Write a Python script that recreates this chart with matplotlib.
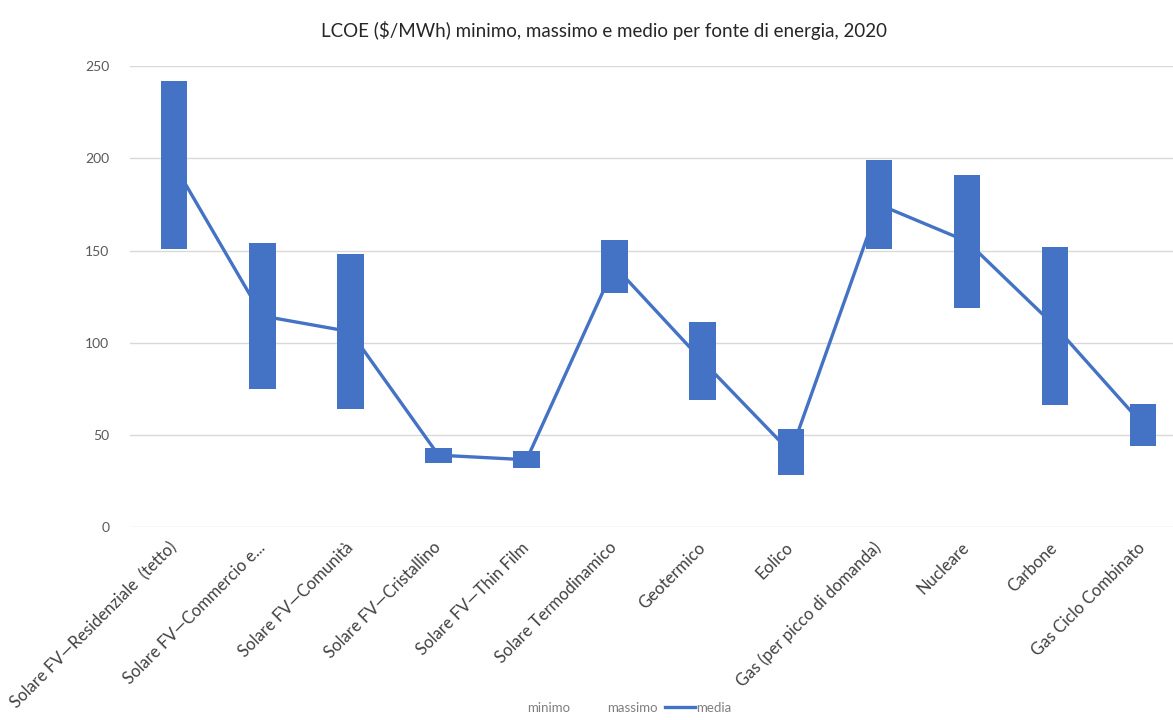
import numpy as np
import matplotlib
matplotlib.use("Agg")
import matplotlib.pyplot as plt
from matplotlib.lines import Line2D

# LCOE 2020 per fonte: minimo, massimo e media ($/MWh)
fonti = [
    "Solare FV\u2014Residenziale  (tetto)",
    "Solare FV\u2014Commercio e...",
    "Solare FV\u2014Comunità",
    "Solare FV\u2014Cristallino",
    "Solare FV\u2014Thin Film",
    "Solare Termodinamico",
    "Geotermico",
    "Eolico",
    "Gas (per picco di domanda)",
    "Nucleare",
    "Carbone",
    "Gas Ciclo Combinato",
]
minimo = [151, 75, 64, 35, 32, 127, 69, 28, 151, 119, 66, 44]
massimo = [242, 154, 148, 43, 41, 156, 111, 53, 199, 191, 152, 67]
media = [196.5, 114.5, 106, 39, 36.5, 141.5, 90, 40.5, 175, 155, 109, 55.5]

blu = "#4472C4"
grigio = "#595959"

plt.rcParams["font.family"] = ["Lato", "DejaVu Sans"]

fig = plt.figure(figsize=(11.73, 7.2), dpi=100)
ax = fig.add_axes([0.111, 0.268, 0.901, 0.640])

x = np.arange(len(fonti))
lo = np.array(minimo)
hi = np.array(massimo)

ax.plot(x, media, color=blu, lw=2.4, zorder=2, solid_capstyle="butt")
ax.bar(x, hi - lo, bottom=lo, width=0.3, color=blu, zorder=3)

ax.set_xlim(-0.5, len(fonti) - 0.5)
ax.set_ylim(0, 250)
ax.set_yticks(range(0, 251, 50))
ax.yaxis.grid(True, color="#d9d9d9", lw=1)
ax.set_axisbelow(True)
for s in ax.spines.values():
    s.set_visible(False)
ax.tick_params(axis="both", length=0, colors=grigio)
ax.tick_params(axis="y", labelsize=10, pad=15)

ax.set_xticks(x)
ax.set_xticklabels(fonti, rotation=45, ha="right", va="center",
                   rotation_mode="anchor", fontsize=12, color="#404040")
ax.tick_params(axis="x", pad=13)

fig.text(0.515, 0.958, "LCOE ($/MWh) minimo, massimo e medio per fonte di energia, 2020",
         ha="center", va="center", fontsize=13.5, color="#262626")

handles = [
    Line2D([], [], color="none"),
    Line2D([], [], color="none"),
    Line2D([], [], color=blu, lw=2.4),
]
fig.legend(handles, ["minimo", "massimo", "media"], loc="lower center",
           bbox_to_anchor=(0.523, -0.008), ncol=3, frameon=False, fontsize=9.5,
           labelcolor="#7f7f7f", handlelength=2.3, handletextpad=0.05,
           columnspacing=0.5)

fig.savefig("out.png", dpi=100, facecolor="white")
